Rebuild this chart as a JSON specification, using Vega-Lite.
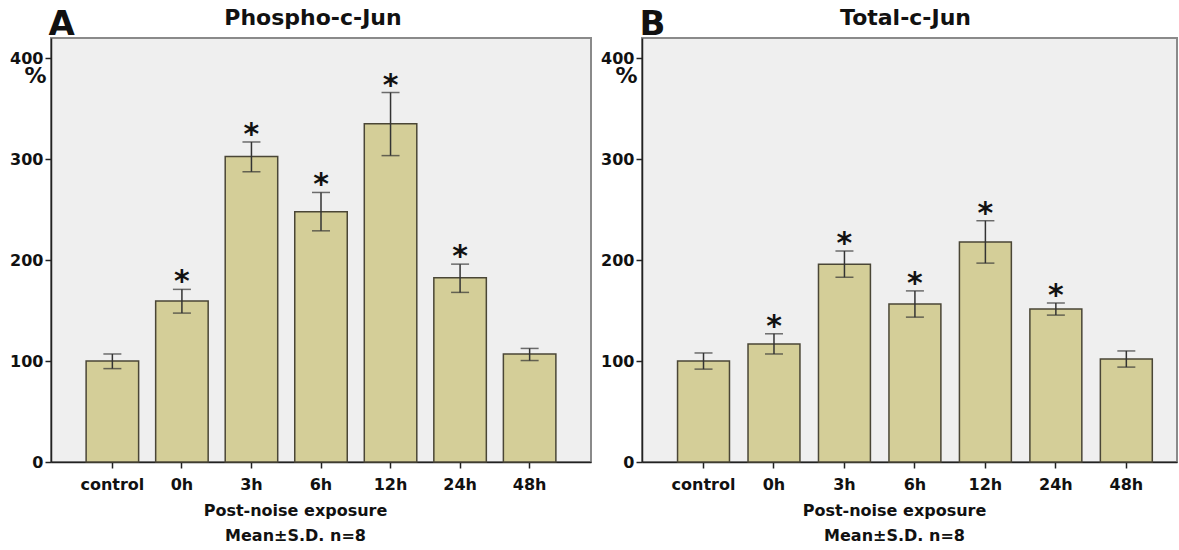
{
  "$schema": "https://vega.github.io/schema/vega-lite/v6.json",
  "background": "white",
  "padding": {"left": 8, "top": 6, "right": 0, "bottom": 2},
  "spacing": 51,
  "bounds": "flush",
  "config": {
    "font": "DejaVu Sans",
    "view": {"fill": "#efefef", "stroke": "#8a8a8a", "strokeWidth": 2},
    "axis": {
      "labelFont": "DejaVu Sans", "labelFontWeight": "bold", "labelFontSize": 16, "labelColor": "#111",
      "titleFont": "DejaVu Sans", "titleFontWeight": "bold", "titleColor": "#111",
      "domainColor": "#222", "domainWidth": 1.5, "tickColor": "#222", "tickWidth": 1.5, "grid": false
    }
  },
  "datasets": {
    "phospho": [
      {"time": "control", "mean": 100, "lo": 92.5, "hi": 107, "sig": false},
      {"time": "0h", "mean": 159.5, "lo": 147.5, "hi": 171, "sig": true},
      {"time": "3h", "mean": 302.5, "lo": 287.5, "hi": 317, "sig": true},
      {"time": "6h", "mean": 248, "lo": 229, "hi": 267, "sig": true},
      {"time": "12h", "mean": 335, "lo": 303.5, "hi": 366, "sig": true},
      {"time": "24h", "mean": 182.5, "lo": 168, "hi": 196, "sig": true},
      {"time": "48h", "mean": 107, "lo": 100.5, "hi": 112.5, "sig": false}
    ],
    "total": [
      {"time": "control", "mean": 100, "lo": 92, "hi": 108, "sig": false},
      {"time": "0h", "mean": 117, "lo": 107, "hi": 127, "sig": true},
      {"time": "3h", "mean": 196, "lo": 183, "hi": 209, "sig": true},
      {"time": "6h", "mean": 156.5, "lo": 143.5, "hi": 169.5, "sig": true},
      {"time": "12h", "mean": 218, "lo": 197, "hi": 239, "sig": true},
      {"time": "24h", "mean": 151.5, "lo": 145.5, "hi": 157.5, "sig": true},
      {"time": "48h", "mean": 102, "lo": 94, "hi": 110, "sig": false}
    ]
  },
  "hconcat": [
    {
      "width": 540, "height": 424,
      "data": {"name": "phospho"},
      "title": {"text": "Phospho-c-Jun", "fontSize": 22, "fontWeight": "bold", "color": "#111", "anchor": "middle", "frame": "group", "baseline": "alphabetic", "offset": -40, "dx": -8},
      "resolve": {"axis": {"x": "independent"}},
      "layer": [
        {
          "mark": {"type": "bar", "fill": "#d4ce98", "stroke": "#4a4636", "strokeWidth": 1.5},
          "encoding": {
            "x": {"field": "time", "type": "nominal", "sort": null,
              "scale": {"paddingInner": 0.245, "paddingOuter": 0.505},
              "axis": {"orient": "bottom", "labelAngle": 0, "tickSize": 6, "labelPadding": 8,
                "title": ["Post-noise exposure", "Mean±S.D. n=8"], "titleFontSize": 16, "titleLineHeight": 25, "titlePadding": 10, "titleX": 244}},
            "y": {"field": "mean", "type": "quantitative", "scale": {"domain": [0, 420], "nice": false},
              "axis": {"values": [0, 100, 200, 300, 400], "tickSize": 6, "labelPadding": 2,
                "title": "%", "titleAngle": 0, "titleFontSize": 22, "titleX": -5, "titleY": 27, "titleAlign": "right", "titleBaseline": "top"}}
          }
        },
        {
          "mark": {"type": "rule", "color": "#333", "strokeWidth": 1.5},
          "encoding": {
            "x": {"field": "time", "type": "nominal", "sort": null,
              "axis": {"orient": "top", "labels": false, "ticks": false, "domain": false,
                "title": "A", "titleFontSize": 34, "titleX": -3, "titleY": -4, "titleAlign": "left", "titleBaseline": "alphabetic"}},
            "y": {"field": "lo", "type": "quantitative"},
            "y2": {"field": "hi"}
          }
        },
        {
          "mark": {"type": "tick", "color": "#333", "size": 18, "thickness": 1.5},
          "encoding": {"x": {"field": "time", "type": "nominal", "sort": null, "axis": null}, "y": {"field": "lo", "type": "quantitative"}}
        },
        {
          "mark": {"type": "tick", "color": "#333", "size": 18, "thickness": 1.5},
          "encoding": {"x": {"field": "time", "type": "nominal", "sort": null, "axis": null}, "y": {"field": "hi", "type": "quantitative"}}
        },
        {
          "transform": [{"filter": "datum.sig"}],
          "mark": {"type": "text", "text": "*", "fontSize": 30, "fontWeight": "bold", "color": "#111", "baseline": "alphabetic", "dy": 2},
          "encoding": {"x": {"field": "time", "type": "nominal", "sort": null, "axis": null}, "y": {"field": "hi", "type": "quantitative"}}
        }
      ]
    },
    {
      "width": 535, "height": 424,
      "data": {"name": "total"},
      "title": {"text": "Total-c-Jun", "fontSize": 22, "fontWeight": "bold", "color": "#111", "anchor": "middle", "frame": "group", "baseline": "alphabetic", "offset": -40, "dx": -4},
      "resolve": {"axis": {"x": "independent"}},
      "layer": [
        {
          "mark": {"type": "bar", "fill": "#d4ce98", "stroke": "#4a4636", "strokeWidth": 1.5},
          "encoding": {
            "x": {"field": "time", "type": "nominal", "sort": null,
              "scale": {"paddingInner": 0.263, "paddingOuter": 0.4275, "align": 0.59},
              "axis": {"orient": "bottom", "labelAngle": 0, "tickSize": 6, "labelPadding": 8,
                "title": ["Post-noise exposure", "Mean±S.D. n=8"], "titleFontSize": 16, "titleLineHeight": 25, "titlePadding": 10, "titleX": 252}},
            "y": {"field": "mean", "type": "quantitative", "scale": {"domain": [0, 420], "nice": false},
              "axis": {"values": [0, 100, 200, 300, 400], "tickSize": 6, "labelPadding": 2,
                "title": "%", "titleAngle": 0, "titleFontSize": 22, "titleX": -5, "titleY": 27, "titleAlign": "right", "titleBaseline": "top"}}
          }
        },
        {
          "mark": {"type": "rule", "color": "#333", "strokeWidth": 1.5},
          "encoding": {
            "x": {"field": "time", "type": "nominal", "sort": null,
              "axis": {"orient": "top", "labels": false, "ticks": false, "domain": false,
                "title": "B", "titleFontSize": 34, "titleX": -3, "titleY": -4, "titleAlign": "left", "titleBaseline": "alphabetic"}},
            "y": {"field": "lo", "type": "quantitative"},
            "y2": {"field": "hi"}
          }
        },
        {
          "mark": {"type": "tick", "color": "#333", "size": 18, "thickness": 1.5},
          "encoding": {"x": {"field": "time", "type": "nominal", "sort": null, "axis": null}, "y": {"field": "lo", "type": "quantitative"}}
        },
        {
          "mark": {"type": "tick", "color": "#333", "size": 18, "thickness": 1.5},
          "encoding": {"x": {"field": "time", "type": "nominal", "sort": null, "axis": null}, "y": {"field": "hi", "type": "quantitative"}}
        },
        {
          "transform": [{"filter": "datum.sig"}],
          "mark": {"type": "text", "text": "*", "fontSize": 30, "fontWeight": "bold", "color": "#111", "baseline": "alphabetic", "dy": 2},
          "encoding": {"x": {"field": "time", "type": "nominal", "sort": null, "axis": null}, "y": {"field": "hi", "type": "quantitative"}}
        }
      ]
    }
  ]
}
